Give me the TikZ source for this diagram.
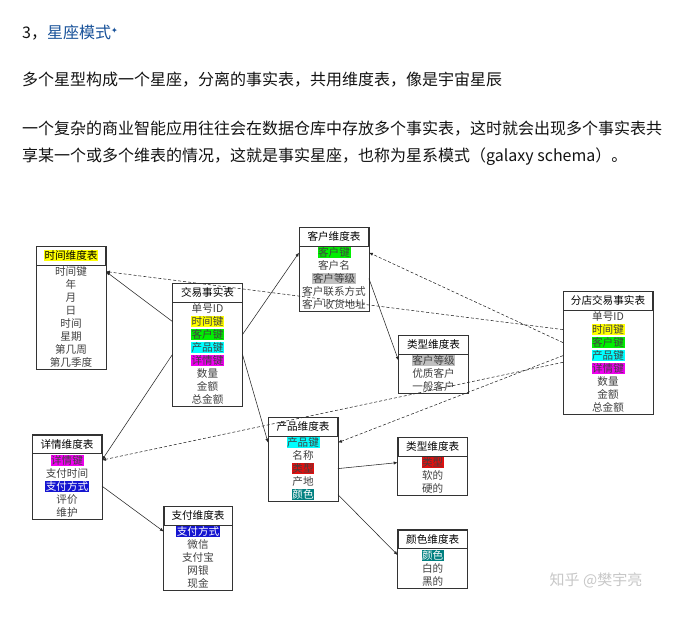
\documentclass[tikz,border=0pt]{standalone}
\usepackage{fontspec}
\setmainfont{Noto Sans CJK SC}
\newfontfamily\symfont{DejaVu Sans}
\usepackage{xcolor}
\usepackage{tikz}
\usetikzlibrary{arrows.meta,fit}

\definecolor{zhlink}{HTML}{175199}
\definecolor{ink}{HTML}{121212}
\definecolor{keyyellow}{HTML}{FFFF00}
\definecolor{keygreen}{HTML}{00F000}
\definecolor{keycyan}{HTML}{00FFFF}
\definecolor{keymagenta}{HTML}{F000F0}
\definecolor{keyblue}{HTML}{1515D0}
\definecolor{keyteal}{HTML}{008080}
\definecolor{keyred}{HTML}{E01010}
\definecolor{keygray}{HTML}{C0C0C0}
\setlength{\fboxsep}{0.6pt}
\newcommand\hlbox[2]{\colorbox{#1}{#2}}
\newcommand\hlwbox[2]{\colorbox{#1}{\textcolor{white}{#2}}}

\begin{document}
\begin{tikzpicture}[
  x=1pt, y=-1pt,
  font=\fontsize{10.6}{13}\selectfont,
  tblhead/.style={draw=black!80, fill=white, line width=0.6pt, anchor=north,
    minimum width=69.5pt, minimum height=18.5pt, inner sep=0pt, text=black},
  field/.style={minimum width=69.5pt, minimum height=13pt, inner sep=0pt,
    text=black!75},
  tblframe/.style={draw=black!80, line width=0.6pt, inner sep=0pt},
  prose/.style={anchor=base west, inner sep=0pt, text=ink,
    font=\fontsize{16}{27}\selectfont},
  flow/.style={-{Latex[length=4pt,width=3.2pt]}, line width=0.55pt, draw=black!85},
  branch flow/.style={flow, dash pattern=on 3pt off 2pt}
]
\useasboundingbox (0,0) rectangle (691,624);

% article text
\node[prose] (title) at (22,38) {3，\textcolor{zhlink}{星座模式\raisebox{5pt}{\symfont\fontsize{8}{8}\selectfont ✦}}};
\node[prose] (lead) at (22,85.5) {多个星型构成一个星座，分离的事实表，共用维度表，像是宇宙星辰};
\node[prose] (para1) at (22,134) {一个复杂的商业智能应用往往会在数据仓库中存放多个事实表，这时就会出现多个事实表共};
\node[prose] (para2) at (22,161) {享某一个或多个维表的情况，这就是事实星座，也称为星系模式（galaxy schema）。};

% dimension and fact tables
\node[tblhead] (time) at (71,246) {\hlbox{keyyellow}{时间维度表}};
\foreach \fld [count=\i] in {时间键,年,月,日,时间,星期,第几周,第几季度}
  \node[field] (time-\i) at ([yshift=-13pt*\i+6.5pt]time.south) {\fld};
\node[tblframe, fit=(time)(time-8)] {};

\node[tblhead] (sales) at (207.5,283) {交易事实表};
\foreach \fld [count=\i] in {单号ID,\hlbox{keyyellow}{时间键},\hlbox{keygreen}{客户键},
    \hlbox{keycyan}{产品键},\hlbox{keymagenta}{详情键},数量,金额,总金额}
  \node[field] (sales-\i) at ([yshift=-13pt*\i+6.5pt]sales.south) {\fld};
\node[tblframe, fit=(sales)(sales-8)] {};

\node[tblhead] (cust) at (334,227) {客户维度表};
\foreach \fld [count=\i] in {\hlbox{keygreen}{客户键},客户名,\hlbox{keygray}{客户等级},
    客户联系方式,客户收货地址}
  \node[field] (cust-\i) at ([yshift=-13pt*\i+6.5pt]cust.south) {\fld};
\node[tblframe, fit=(cust)(cust-5)] {};

\node[tblhead] (ctype) at (433.5,335) {类型维度表};
\foreach \fld [count=\i] in {\hlbox{keygray}{客户等级},优质客户,一般客户}
  \node[field] (ctype-\i) at ([yshift=-13pt*\i+6.5pt]ctype.south) {\fld};
\node[tblframe, fit=(ctype)(ctype-3)] {};

\node[tblhead, minimum width=89.5pt] (branch) at (608,291) {分店交易事实表};
\foreach \fld [count=\i] in {单号ID,\hlbox{keyyellow}{时间键},\hlbox{keygreen}{客户键},
    \hlbox{keycyan}{产品键},\hlbox{keymagenta}{详情键},数量,金额,总金额}
  \node[field, minimum width=89.5pt] (branch-\i) at ([yshift=-13pt*\i+6.5pt]branch.south) {\fld};
\node[tblframe, fit=(branch)(branch-8)] {};

\node[tblhead] (detail) at (67,434.5) {详情维度表};
\foreach \fld [count=\i] in {\hlbox{keymagenta}{详情键},支付时间,\hlwbox{keyblue}{支付方式},评价,维护}
  \node[field] (detail-\i) at ([yshift=-13pt*\i+6.5pt]detail.south) {\fld};
\node[tblframe, fit=(detail)(detail-5)] {};

\node[tblhead, minimum width=68pt] (pay) at (198,506) {支付维度表};
\foreach \fld [count=\i] in {\hlwbox{keyblue}{支付方式},微信,支付宝,网银,现金}
  \node[field, minimum width=68pt] (pay-\i) at ([yshift=-13pt*\i+6.5pt]pay.south) {\fld};
\node[tblframe, fit=(pay)(pay-5)] {};

\node[tblhead] (prod) at (303,417) {产品维度表};
\foreach \fld [count=\i] in {\hlbox{keycyan}{产品键},名称,\hlbox{keyred}{类型},产地,\hlwbox{keyteal}{颜色}}
  \node[field] (prod-\i) at ([yshift=-13pt*\i+6.5pt]prod.south) {\fld};
\node[tblframe, fit=(prod)(prod-5)] {};

\node[tblhead] (ptype) at (432.7,437) {类型维度表};
\foreach \fld [count=\i] in {\hlbox{keyred}{类型},软的,硬的}
  \node[field] (ptype-\i) at ([yshift=-13pt*\i+6.5pt]ptype.south) {\fld};
\node[tblframe, fit=(ptype)(ptype-3)] {};

\node[tblhead] (color) at (432.7,529.5) {颜色维度表};
\foreach \fld [count=\i] in {\hlwbox{keyteal}{颜色},白的,黑的}
  \node[field] (color-\i) at ([yshift=-13pt*\i+6.5pt]color.south) {\fld};
\node[tblframe, fit=(color)(color-3)] {};

% keys of the sales fact table
\draw[flow] (sales-2.west) -- (time-1.east);
\draw[flow] (sales-3.east) -- (cust-1.west);
\draw[flow] (sales-4.south west) -- (detail-1.east);
\draw[flow] (sales-4.south east) -- (prod-1.west);
\draw[flow] (cust-3.east) -- (ctype-1.west);
\draw[flow] (detail-3.east) -- (pay-1.west);
\draw[flow] (prod-3.east) -- (ptype-1.west);
\draw[flow] (prod-5.east) -- (color-1.west);

% keys of the branch fact table
\draw[branch flow] (branch-2.west) -- (time-1.east);
\draw[branch flow] (branch-3.west) -- (cust-1.east);
\draw[branch flow] (branch-4.west) -- (prod-1.east);
\draw[branch flow] (branch-4.south west) -- (detail-1.east);

\node[text=black!22, font=\fontsize{15}{15}\selectfont] (mark) at (596,580) {知乎 @樊宇亮};
\end{tikzpicture}
\end{document}
